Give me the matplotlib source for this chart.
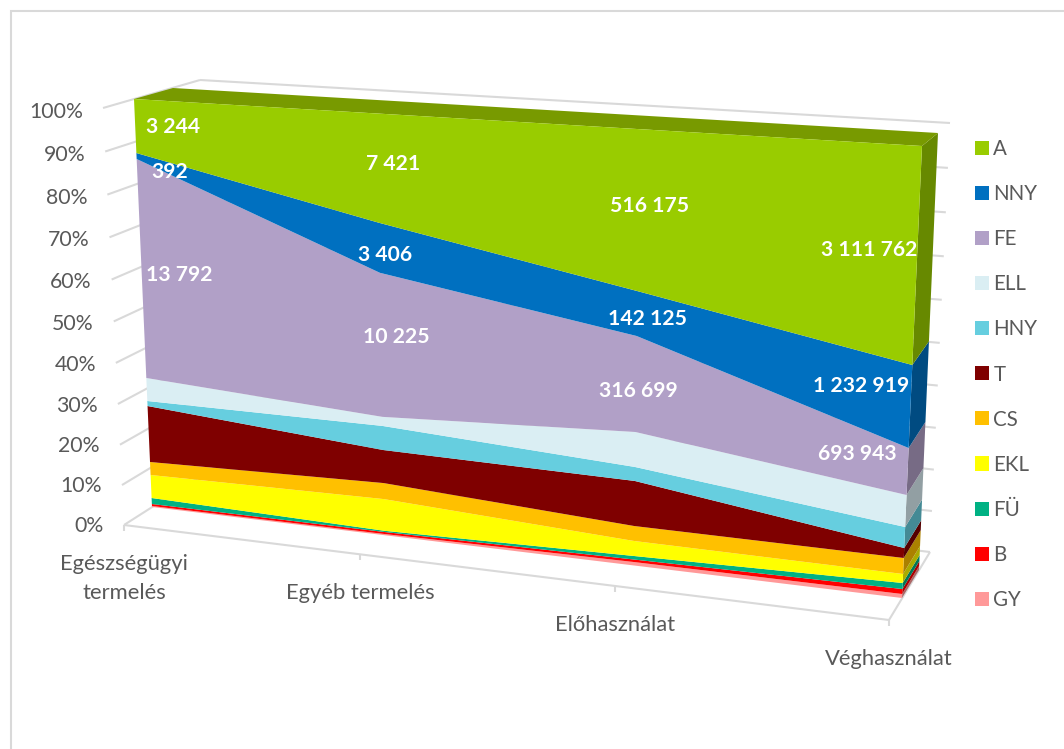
import numpy as np
import matplotlib
matplotlib.use("Agg")
import matplotlib.pyplot as plt
from matplotlib.patches import Polygon, Rectangle
from matplotlib.transforms import Transform
from matplotlib.colors import to_rgb

categories = ["Egészségügyi\ntermelés", "Egyéb termelés", "Előhasználat", "Véghasználat"]
tick_pct = list(range(0, 101, 10))

series_names = ["GY", "B", "FÜ", "EKL", "CS", "T", "HNY", "ELL", "FE", "NNY", "A"]
GY = [0.26, 0.30, 0.83, 0.93]
B = [0.51, 0.50, 0.60, 1.16]
FU = [1.54, 0.30, 0.85, 1.40]
EKL = [5.88, 7.85, 3.60, 2.09]
CS = [3.31, 3.95, 3.58, 3.70]
T = [14.13, 8.10, 10.70, 2.30]
HNY = [1.26, 5.85, 3.30, 4.83]
ELL = [5.75, 2.20, 8.20, 7.31]
FE = [53.23, 34.30, 22.18, 10.63]
NNY = [1.42, 11.65, 10.22, 18.50]
A = [12.71, 25.00, 35.94, 47.15]
layers = [GY, B, FU, EKL, CS, T, HNY, ELL, FE, NNY, A]

label_A = ["3 244", "7 421", "516 175", "3 111 762"]
label_NNY = ["392", "3 406", "142 125", "1 232 919"]
label_FE = ["13 792", "10 225", "316 699", "693 943"]

colors = ["#FF9999", "#FF0000", "#00B183", "#FFFF00", "#FFC000", "#7F0000",
          "#66CEDF", "#DAEEF3", "#B1A0C7", "#0070C0", "#99CC00"]

# layout of the label anchors, in pixels
pos_A = [(173, 127), (393, 164), (650, 206), (869, 250)]
pos_NNY = [(170, 172), (385, 255), (648, 319), (861, 386)]
pos_FE = [(179, 275), (396, 337), (638, 391), (857, 454)]

FONT = "Lato"
GREY = "#595959"
GRID = "#D9D9D9"
TICK_SIZE = 15.3
CAT_SIZE = 15.8
LEGEND_SIZE = 14.8
plt.rcParams["font.family"] = [FONT, "DejaVu Sans"]


class Plane(Transform):
    """Perspective map of (category index, percent) on to a plane of the 3-D box."""
    input_dims = output_dims = 2
    is_separable = False
    has_inverse = False

    def __init__(self, p0, p1, p2, p3):
        super().__init__()
        (x0, y0), (x1, y1), (x2, y2), (x3, y3) = p0, p1, p2, p3
        sx, sy = x0 - x1 + x2 - x3, y0 - y1 + y2 - y3
        dx1, dx2, dy1, dy2 = x1 - x2, x3 - x2, y1 - y2, y3 - y2
        det = dx1 * dy2 - dx2 * dy1
        g = (sx * dy2 - dx2 * sy) / det
        h = (dx1 * sy - sx * dy1) / det
        self.m = np.array([[x1 - x0 + g * x1, x3 - x0 + h * x3, x0],
                           [y1 - y0 + g * y1, y3 - y0 + h * y3, y0],
                           [g, h, 1.0]])

    def transform_non_affine(self, values):
        v = np.asarray(values, float)
        t = v[:, 0] / 3.0
        u = v[:, 1] / 100.0
        w = self.m[2, 0] * t + self.m[2, 1] * u + 1.0
        return np.column_stack([(self.m[0, 0] * t + self.m[0, 1] * u + self.m[0, 2]) / w,
                                (self.m[1, 0] * t + self.m[1, 1] * u + self.m[1, 2]) / w])

    def transform_path_non_affine(self, path):
        return type(path)(self.transform_non_affine(path.vertices), path.codes)


front = Plane((152, 507), (902, 598), (922, 146), (134, 99))     # front of the areas
back = Plane((170, 495), (919, 570), (938, 133), (173, 88))      # rear of the areas
axis_f = Plane((124, 525), (889, 620), (907, 156), (103, 108))   # axis edge of the box
wall = Plane((215, 467), (930, 552), (950, 123), (200, 80))      # back wall

fig = plt.figure(figsize=(10.64, 7.49), dpi=100)
ax = fig.add_axes([0, 0, 1, 1])
ax.set_xlim(0, 1064)
ax.set_ylim(749, 0)
ax.axis("off")

# chart frame (its right and bottom sides lie outside the picture)
ax.add_patch(Rectangle((11, 11), 1100, 800, fc="white", ec=GRID, lw=1.5, zorder=0))

# walls and floor
def seg(p, q, **kw):
    ax.plot([p[0], q[0]], [p[1], q[1]], color=GRID, lw=1.5, solid_capstyle="butt", zorder=1, **kw)

def at(plane, i, pct):
    return plane.transform_non_affine(np.array([[i, pct]]))[0]

for p in tick_pct:
    seg(at(axis_f, 0, p), at(wall, 0, p))
    seg(at(wall, 0, p), at(wall, 3, p))
seg(at(axis_f, 0, 0), at(axis_f, 3, 0))
seg(at(axis_f, 3, 0), at(wall, 3, 0))
for i in range(4):
    q = at(axis_f, i, 0)
    seg(q, (q[0], q[1] + 6))

# areas
x = np.arange(4)
polys = ax.stackplot(x, layers, colors=colors, labels=series_names,
                     transform=front + ax.transData, linewidth=0, zorder=4)
ax.set_xlim(0, 1064)
ax.set_ylim(749, 0)

# right-hand side and top faces, from the same stacks
tops = np.cumsum(np.array(layers, float), axis=0)
bottoms = np.vstack([np.zeros(4), tops[:-1]])
for k, col in enumerate(colors):
    rgb = np.array(to_rgb(col)) * 0.67
    quad = [at(front, 3, bottoms[k, 3]), at(back, 3, bottoms[k, 3]),
            at(back, 3, tops[k, 3]), at(front, 3, tops[k, 3])]
    ax.add_patch(Polygon(quad, closed=True, fc=rgb, ec="none", zorder=3))
top_quad = [at(front, 0, 100), at(back, 0, 100), at(back, 3, 100), at(front, 3, 100)]
ax.add_patch(Polygon(top_quad, closed=True, fc="#789A00", ec="none", zorder=3))

# value axis labels
for p in tick_pct:
    q = at(axis_f, 0, p)
    ax.text(q[0] - 20, q[1] + 1 + 3 * p / 100, f"{p}%", ha="right", va="center",
            fontsize=TICK_SIZE, color=GREY, zorder=6)

# category labels
for i, name in enumerate(categories):
    q = at(axis_f, i, 0)
    ax.text(q[0], q[1] + 29, name, ha="center", va="top", fontsize=CAT_SIZE,
            color=GREY, linespacing=1.55, zorder=6)

# data labels
for labels, positions in [(label_A, pos_A), (label_NNY, pos_NNY), (label_FE, pos_FE)]:
    for text, (px, py) in zip(labels, positions):
        ax.text(px, py, text, ha="center", va="center", fontsize=15.2,
                fontweight="bold", color="white", zorder=7)

# legend
leg = ax.legend(handles=polys[::-1], labels=series_names[::-1], loc="upper left",
                bbox_to_anchor=(969 / 1064, 1 - 133 / 749), frameon=False,
                fontsize=LEGEND_SIZE, labelcolor=GREY, handlelength=0.68, handleheight=0.68,
                handletextpad=0.2, labelspacing=1.22, borderaxespad=0, borderpad=0.3)

fig.savefig("out.png", dpi=100)
